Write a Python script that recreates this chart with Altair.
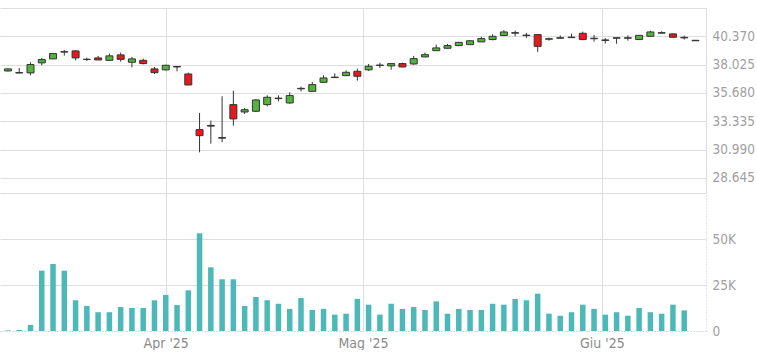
import json
import altair as alt
import pandas as pd

# ---- data (prices in thousands of points, volumes in contracts) ----
opens = [37.50, 37.36, 37.34, 38.17, 38.50, 39.06, 39.16, 38.47, 38.58, 38.38,
         38.83, 38.22, 38.38, 37.67, 37.59, 37.83, 37.25, 32.64, 32.93, 31.93,
         34.71, 34.10, 34.16, 34.71, 35.21, 34.85, 36.02, 35.81, 36.56, 36.95,
         37.11, 37.47, 37.59, 37.95, 37.92, 38.11, 38.08, 38.66, 39.18, 39.38,
         39.60, 39.68, 39.91, 40.10, 40.43, 40.63, 40.43, 40.51, 40.13, 40.21,
         40.26, 40.62, 40.17, 40.03, 40.21, 40.21, 40.10, 40.37, 40.63, 40.57,
         40.24, 40.00]
highs = [37.70, 37.75, 38.22, 38.58, 38.96, 39.24, 39.22, 38.60, 38.75, 38.94,
         39.02, 38.66, 38.52, 37.83, 38.00, 37.88, 37.36, 34.02, 33.39, 35.40,
         35.87, 34.44, 35.15, 35.48, 35.48, 35.73, 36.20, 36.59, 37.14, 37.30,
         37.55, 37.69, 38.08, 38.17, 38.14, 38.19, 38.75, 39.02, 39.68, 39.74,
         39.90, 40.05, 40.33, 40.54, 40.88, 40.84, 40.65, 40.55, 40.26, 40.45,
         40.59, 40.76, 40.48, 40.23, 40.25, 40.45, 40.48, 40.84, 40.78, 40.62,
         40.43, 40.03]
lows = [37.45, 37.32, 37.14, 37.97, 38.48, 38.77, 38.38, 38.33, 38.40, 38.36,
        38.27, 37.80, 38.05, 37.25, 37.55, 37.47, 36.32, 30.76, 31.48, 31.60,
        32.97, 33.94, 34.10, 34.57, 34.98, 34.77, 35.81, 35.78, 36.53, 36.93,
        37.08, 36.70, 37.50, 37.75, 37.61, 37.80, 38.00, 38.64, 39.16, 39.36,
        39.58, 39.66, 39.89, 40.04, 40.41, 40.37, 40.24, 39.08, 40.01, 40.20,
        40.25, 40.05, 39.93, 39.78, 39.76, 40.01, 40.08, 40.35, 40.62, 40.25,
        40.10, 39.99]
closes = [37.67, 37.33, 38.03, 38.44, 38.94, 39.10, 38.58, 38.45, 38.41, 38.75,
          38.46, 38.50, 38.11, 37.36, 37.97, 37.87, 36.34, 32.14, 32.99, 31.98,
          33.53, 34.29, 35.10, 35.32, 35.25, 35.46, 36.06, 36.37, 36.92, 36.99,
          37.39, 37.06, 37.89, 37.99, 38.11, 37.83, 38.52, 38.85, 39.41, 39.60,
          39.87, 40.00, 40.18, 40.37, 40.73, 40.67, 40.47, 39.54, 40.17, 40.25,
          40.30, 40.10, 40.21, 40.07, 40.25, 40.25, 40.45, 40.73, 40.67, 40.29,
          40.28, 40.04]
volumes = [300, 600, 3300, 32800, 36400, 32800, 16700, 13600, 10200, 10200,
           13000, 12500, 12500, 16700, 19600, 14100, 22100, 53100, 34600, 28100,
           28100, 13600, 18500, 16700, 14800, 12000, 17900, 11400, 12000, 8900,
           9400, 17400, 14300, 8900, 14800, 12000, 13000, 11400, 16100, 9400,
           12000, 11400, 11400, 14800, 14300, 17400, 16700, 20300, 9400, 8300,
           10200, 14300, 12000, 8900, 10200, 8300, 12500, 10200, 9400, 14300,
           11200, 0]

price_ticks = [28.645, 30.990, 33.335, 35.680, 38.025, 40.370, 42.715]
volume_ticks = [0, 25000, 50000, 75000]
month_pos = [14, 31.5, 52.7]
month_labels = ["Apr '25", "Mag '25", "Giu '25"]

df = pd.DataFrame({
    "i": list(range(len(opens))),
    "open": opens, "high": highs, "low": lows, "close": closes,
    "volume": volumes,
})
df["dir"] = ["up" if c >= o else "down" for o, c in zip(opens, closes)]

FONT = "DejaVu Sans Condensed, Roboto, sans-serif"
GRID = "#dddddd"
GREEN = "#52b43a"
RED = "#e31b1b"
EDGE = "#333333"
TEAL = "#4cb8b8"

month_expr = " : ".join(
    f"datum.value == {p} ? {json.dumps(l)}" for p, l in zip(month_pos, month_labels)
) + " : ''"

xs = alt.Scale(domain=[-0.262, 61.49], nice=False, zero=False)

x_top = alt.Axis(values=month_pos, labels=False, ticks=False, domain=False,
                 grid=True, gridColor=GRID, title="")
x_bottom = alt.Axis(values=month_pos, labelExpr=month_expr, ticks=False,
                    domain=True, domainColor="#c8c8c8", domainDash=[1, 2],
                    grid=True, gridColor=GRID, title="", labelFont=FONT,
                    labelFontSize=14, labelColor="#8a8a8a", labelPadding=5,
                    labelOverlap=False)

price_axis = alt.Axis(orient="right", values=price_ticks,
                      labelExpr="datum.value > 42 ? '' : format(datum.value, '.3f')",
                      labelFontSize={"condition": {"test": "datum.value > 42", "value": 0}, "value": 13.5},
                      ticks=False, domain=True, domainColor=GRID, grid=True,
                      gridColor=GRID, title="", labelFont=FONT,
                      labelColor="#a0a0a0", labelPadding=6, labelOverlap=False)
vol_axis = alt.Axis(orient="right", values=volume_ticks,
                    labelExpr="datum.value == 0 ? '0' : datum.value >= 75000 ? '' : (datum.value / 1000) + 'K'",
                    labelFontSize={"condition": {"test": "datum.value >= 75000", "value": 0}, "value": 13.5},
                    ticks=False, domain=True, domainColor="#c8c8c8", domainDash=[1, 2],
                    grid=True, gridColor=GRID,
                    gridDash={"condition": {"test": "datum.value === 0", "value": [1, 2]}, "value": []},
                    title="", labelFont=FONT,
                    labelColor="#a0a0a0", labelPadding=6, labelOverlap=False)

ys = alt.Scale(domain=[27.39, 42.715], nice=False, zero=False)

base = alt.Chart(df)

wick = base.mark_rule(color=EDGE, strokeWidth=1, clip=True).encode(
    x=alt.X("i:Q", scale=xs, axis=x_top),
    y=alt.Y("low:Q", scale=ys, axis=price_axis),
    y2="high:Q",
)
body = base.mark_bar(size=7, stroke=EDGE, strokeWidth=1, clip=True).encode(
    x=alt.X("i:Q", scale=xs, axis=x_top),
    y=alt.Y("open:Q", scale=ys, axis=price_axis),
    y2="close:Q",
    color=alt.Color("dir:N", scale=alt.Scale(domain=["up", "down"], range=[GREEN, RED]), legend=None),
)
price = alt.layer(wick, body).properties(width=706, height=185)

vol = base.mark_bar(size=5.5, color=TEAL, clip=True).encode(
    x=alt.X("i:Q", scale=xs, axis=x_bottom),
    y=alt.Y("volume:Q", scale=alt.Scale(domain=[0, 75000], nice=False), axis=vol_axis),
).properties(width=706, height=138)

chart = alt.vconcat(price, vol, spacing=0).properties(
    padding={"left": 0, "top": 8, "right": 0, "bottom": 0},
    background="white",
).configure_view(strokeWidth=0).resolve_scale(y="independent")

chart.save("out.html", embed_options={"renderer": "svg", "actions": False})
